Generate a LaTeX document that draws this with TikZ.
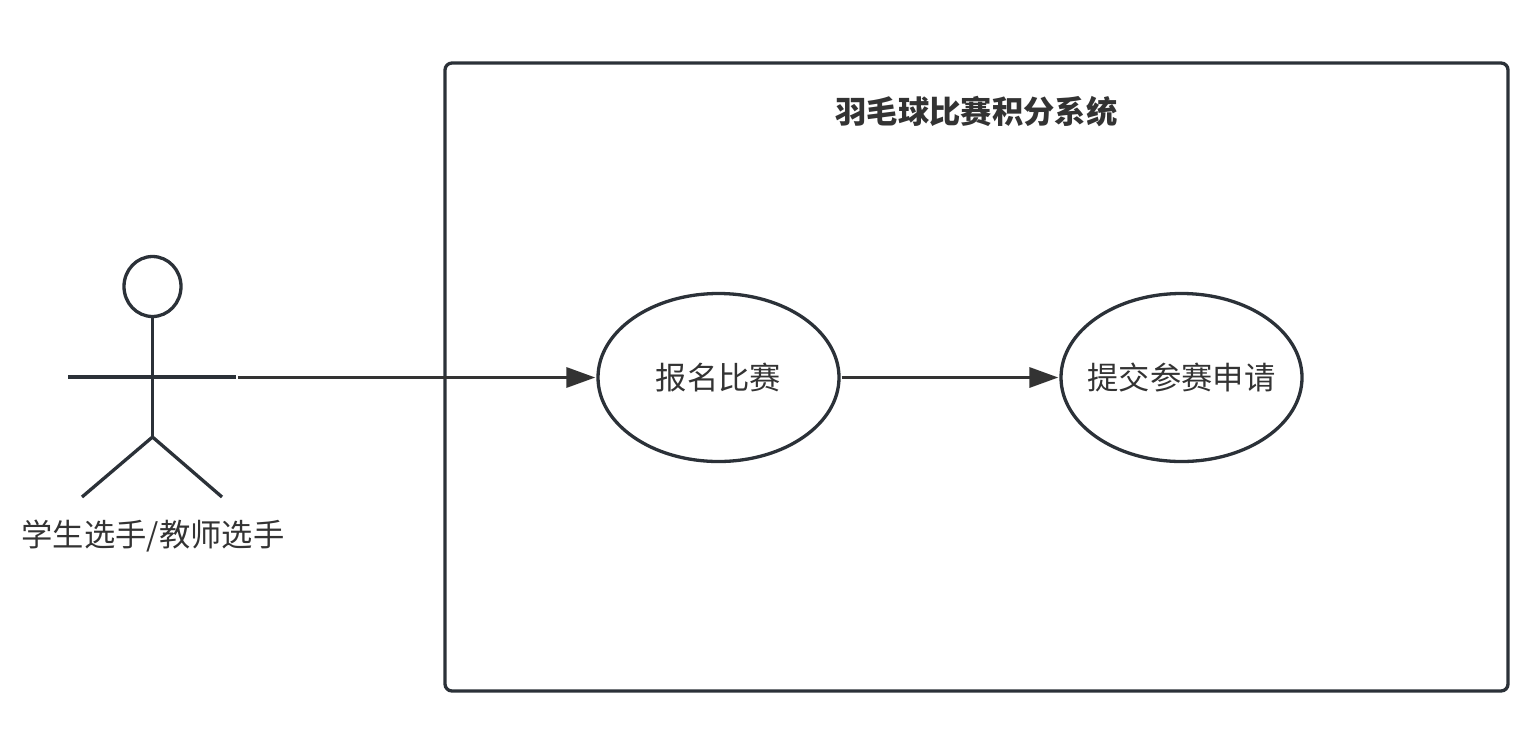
\documentclass[tikz,border=0pt]{standalone}
\usepackage{fontspec}
\setmainfont{Noto Sans CJK SC}
\usetikzlibrary{arrows.meta,shapes.geometric}

\definecolor{linecol}{HTML}{2B3138}
\definecolor{textcol}{HTML}{333333}

\tikzset{
	usecase/.style={draw=linecol, line width=3.3pt, ellipse, minimum width=241pt, minimum height=168pt, inner sep=0pt, text=textcol, font=\fontsize{31.3pt}{36pt}\selectfont},
	limb/.style={draw=linecol, line width=3.3pt},
	flow/.style={draw=textcol, line width=3.3pt, -{Triangle[length=29pt,width=20pt]}, shorten >=1pt}
}

\begin{document}
\begin{tikzpicture}[x=1pt, y=-1pt]
	\useasboundingbox (0,0) rectangle (1538,737);
	
	% system boundary
	\draw[limb, rounded corners=7pt] (445,63) rectangle (1508,691);
	\node[text=textcol, font=\fontsize{31.3pt}{36pt}\selectfont\bfseries] (title) at (976.5,112) {羽毛球比赛积分系统};
	
	% actor
	\node[limb, ellipse, minimum width=57pt, minimum height=60pt, inner sep=0pt] (head) at (152.5,286.5) {};
	\coordinate (hip) at (152.5,437);
	\coordinate (armL) at (68,377);
	\coordinate (armR) at (236,377);
	\coordinate (armEnd) at (238,377.5);
	\draw[limb] (head.south) -- (hip);
	\draw[limb] (armL) -- (armR);
	\draw[limb] (82,497) -- (hip) -- (222,497);
	\node[text=textcol, font=\fontsize{31.3pt}{36pt}\selectfont] (actor) at (153,536) {学生选手/教师选手};
	
	% use cases
	\node[usecase] (signup) at (718.5,377.5) {\makebox[0pt]{\raisebox{-1pt}{报名比赛}}};
	\node[usecase] (submit) at (1181.5,377.5) {\makebox[0pt]{\raisebox{-1pt}{提交参赛申请}}};
	
	\draw[flow] (armEnd) -- (signup.west);
	\draw[flow] (signup.east) ++(1,0) coordinate (signupOut) (signupOut) -- (submit.west);
\end{tikzpicture}
\end{document}
